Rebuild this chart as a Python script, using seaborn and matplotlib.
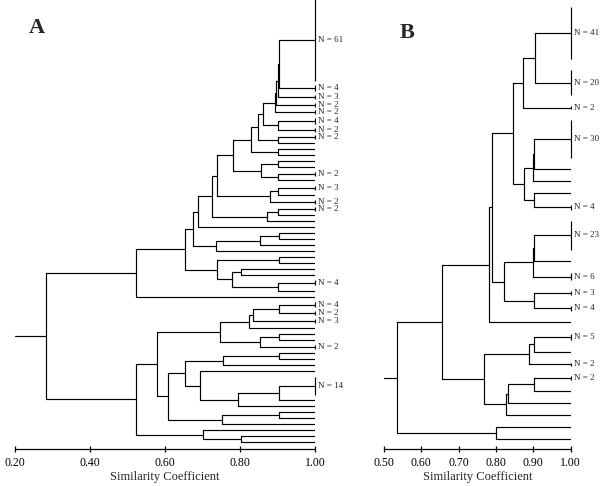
import numpy as np
import pandas as pd
import seaborn as sns
import matplotlib.pyplot as plt
from matplotlib.ticker import FormatStrFormatter

# isolates per leaf, top to bottom (1 = single isolate, no label)
leaf_n_A = [61, 4, 3, 2, 2, 4, 2, 2, 1, 1,
            1, 1, 1, 2, 1, 3, 1, 2, 2, 1,
            1, 1, 1, 1, 1, 1, 1, 1, 1, 1,
            4, 1, 1, 4, 2, 3, 1, 1, 1, 2,
            1, 1, 1, 1, 14, 1, 1, 1, 1, 1,
            1, 1, 1]

# (node, left, right, similarity) - ints are leaves, strings are earlier nodes
merges_A = [
    ("a1", 0, 1, 0.905), ("a2", "a1", 2, 0.900), ("a3", "a2", 3, 0.896),
    ("a4", "a3", 4, 0.892), ("b1", 5, 6, 0.902), ("a5", "a4", "b1", 0.860),
    ("c1", 7, 8, 0.900), ("a6", "a5", "c1", 0.847), ("c2", 9, 10, 0.900),
    ("a7", "a6", "c2", 0.829), ("e1", 11, 12, 0.900), ("e2", 13, 14, 0.900),
    ("d", "e1", "e2", 0.855), ("a8", "a7", "d", 0.782), ("g1", 15, 16, 0.900),
    ("g2", "g1", 17, 0.880), ("a9", "a8", "g2", 0.738), ("h1", 18, 19, 0.900),
    ("h2", "h1", 20, 0.871), ("a10", "a9", "h2", 0.724), ("a11", "a10", 21, 0.689),
    ("f1", 22, 23, 0.905), ("f2", "f1", 24, 0.853), ("f3", "f2", 25, 0.736),
    ("a12", "a11", "f3", 0.674), ("i1", 26, 27, 0.905), ("i2", 28, 29, 0.802),
    ("i3", 30, 31, 0.900), ("i4", "i2", "i3", 0.779), ("i5", "i1", "i4", 0.738),
    ("a13", "a12", "i5", 0.653), ("top", "a13", 32, 0.523),
    ("j1", 33, 34, 0.905), ("j2", "j1", 35, 0.835), ("j3", "j2", 36, 0.825),
    ("k1", 37, 38, 0.905), ("k2", "k1", 39, 0.853), ("j4", "j3", "k2", 0.747),
    ("m1", 40, 41, 0.905), ("m2", "m1", 42, 0.754), ("n1", 44, 45, 0.905),
    ("n2", "n1", 46, 0.794), ("n3", 43, "n2", 0.693), ("m3", "m2", "n3", 0.652),
    ("o1", 47, 48, 0.905), ("o2", "o1", 49, 0.751), ("m4", "m3", "o2", 0.609),
    ("j5", "j4", "m4", 0.578), ("p1", 51, 52, 0.802), ("p2", 50, "p1", 0.700),
    ("bot", "j5", "p2", 0.523), ("root", "top", "bot", 0.282),
]

leaf_n_B = [41, 20, 2, 30, 1, 1, 1, 4, 23, 1, 6, 3, 4, 1, 5, 1, 2, 2, 1, 1, 1, 1, 1]

merges_B = [
    ("b1", 0, 1, 0.904), ("b2", "b1", 2, 0.871), ("c1", 3, 4, 0.902),
    ("c2", "c1", 5, 0.898), ("c3", 6, 7, 0.902), ("c4", "c2", "c3", 0.876),
    ("b3", "b2", "c4", 0.845), ("r1", 8, 9, 0.902), ("r2", "r1", 10, 0.898),
    ("r3", 11, 12, 0.902), ("r4", "r2", "r3", 0.821), ("q1", "b3", "r4", 0.789),
    ("q2", "q1", 13, 0.782), ("s1", 14, 15, 0.902), ("s2", "s1", 16, 0.887),
    ("t1", 17, 18, 0.902), ("t2", "t1", 19, 0.833), ("t3", "t2", 20, 0.827),
    ("s3", "s2", "t3", 0.768), ("u", "q2", "s3", 0.655), ("v", 21, 22, 0.800),
    ("root", "u", "v", 0.536),
]

ticks_A = [0.2, 0.4, 0.6, 0.8, 1.0]
ticks_B = [0.5, 0.6, 0.7, 0.8, 0.9, 1.0]

sns.set_theme(style="white")
plt.rcParams["font.family"] = ["Liberation Serif", "DejaVu Serif"]


def build(leaf_n, merges, pad, xmin):
    n = np.array(leaf_n, float)
    rows = pad + n
    ypos = np.cumsum(rows) - rows / 2
    pos = {i: (1.0, ypos[i]) for i in range(len(n))}
    recs = []
    for k, (name, a, b, s) in enumerate(merges):
        xa, ya = pos[a]
        xb, yb = pos[b]
        recs += [(k, xa, ya), (k, s, ya), (k, s, yb), (k, xb, yb)]
        pos[name] = (s, (ya + yb) / 2)
    # stem of the root
    rs, ry = pos[merges[-1][0]]
    recs += [(len(merges), rs, ry), (len(merges), xmin, ry)]
    df = pd.DataFrame(recs, columns=["link", "x", "y"])
    return df, ypos, rows.sum()


def draw(ax, leaf_n, merges, pad, ticks, ylim_pad):
    df, ypos, total = build(leaf_n, merges, pad, ticks[0])
    sns.lineplot(data=df, x="x", y="y", units="link", estimator=None, sort=False,
                 color="black", lw=0.85, legend=False, ax=ax)
    for n, y in zip(leaf_n, ypos):
        if n > 1:
            bar = max(n, 3)
            ax.vlines(1.0, y - bar / 2, y + bar / 2, color="black", lw=0.85, clip_on=False)
            ax.annotate(f"N = {n}", (1.0, y), xytext=(2.5, 0), textcoords="offset points",
                        va="center", ha="left", fontsize=6.5, annotation_clip=False)
    ax.set_xlim(ticks[0], ticks[-1])
    ax.set_ylim(total + ylim_pad[1], -ylim_pad[0])
    ax.set_xticks(ticks)
    ax.xaxis.set_major_formatter(FormatStrFormatter("%.2f"))
    ax.set_yticks([])
    ax.set_ylabel(None)
    ax.set_xlabel("Similarity Coefficient", fontsize=9, labelpad=2)
    ax.tick_params(axis="x", direction="inout", length=5, width=0.9, labelsize=8.5,
                   bottom=True, pad=3, colors="black")
    for side in ["top", "right", "left"]:
        ax.spines[side].set_visible(False)
    ax.spines["bottom"].set_color("black")
    ax.spines["bottom"].set_linewidth(0.9)
    ax.patch.set_alpha(0)


fig = plt.figure(figsize=(6.07, 4.86), dpi=100)
ax_a = fig.add_axes([15 / 607, 37 / 486, 300 / 607, 452 / 486])
ax_b = fig.add_axes([384 / 607, 37 / 486, 186.7 / 607, 452 / 486])

draw(ax_a, leaf_n_A, merges_A, 3.45, ticks_A, (0, 3))
draw(ax_b, leaf_n_B, merges_B, 8.6, ticks_B, (4, 3))

fig.text(36.7 / 607, 1 - 27.8 / 486, "A", fontsize=16, fontweight="bold", ha="center", va="center")
fig.text(407.3 / 607, 1 - 33.3 / 486, "B", fontsize=16, fontweight="bold", ha="center", va="center")

fig.savefig("out.png", dpi=100)
